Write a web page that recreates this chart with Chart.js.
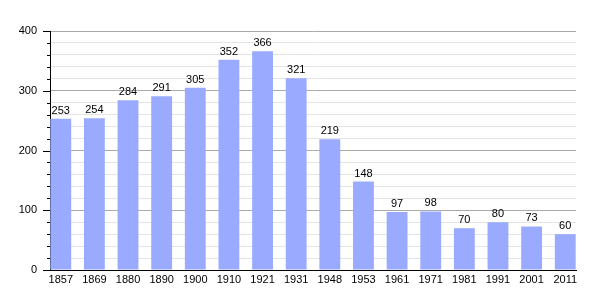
<!DOCTYPE html>
<html>
<head>
<meta charset="utf-8">
<script src="https://cdn.jsdelivr.net/npm/chart.js@4/dist/chart.umd.min.js"></script>
<style>
  html, body { margin: 0; padding: 0; background: #fff; }
  #wrap { width: 605px; height: 300px; }
</style>
</head>
<body>
<div id="wrap"><canvas id="c" width="605" height="300"></canvas></div>
<script>
const years = ["1857","1869","1880","1890","1900","1910","1921","1931","1948","1953","1961","1971","1981","1991","2001","2011"];
const population = [253,254,284,291,305,352,366,321,219,148,97,98,70,80,73,60];
const yTicks = [0,100,200,300,400];

const FONT = '"Liberation Sans", Arial, sans-serif';

const valueLabels = {
  id: 'valueLabels',
  afterDatasetsDraw(chart) {
    const ctx = chart.ctx;
    const meta = chart.getDatasetMeta(0);
    ctx.save();
    ctx.font = '11px ' + FONT;
    ctx.fillStyle = '#000';
    ctx.textAlign = 'center';
    ctx.textBaseline = 'alphabetic';
    meta.data.forEach((bar, i) => {
      ctx.fillText(String(population[i]), bar.x, bar.y - 5);
    });
    ctx.restore();
  }
};

const yTickMarks = {
  id: 'yTickMarks',
  afterDraw(chart) {
    const ctx = chart.ctx;
    const ys = chart.scales.y;
    const left = chart.chartArea.left;
    ctx.save();
    ctx.strokeStyle = '#000';
    ctx.lineWidth = 1;
    ys.ticks.forEach(t => {
      const py = Math.round(ys.getPixelForValue(t.value)) + 0.5;
      const len = (t.value % 100 === 0) ? 7 : 3;
      ctx.beginPath();
      ctx.moveTo(left - len, py);
      ctx.lineTo(left, py);
      ctx.stroke();
    });
    ctx.restore();
  }
};

new Chart(document.getElementById('c'), {
  type: 'bar',
  data: {
    datasets: [{
      data: population.map((v, i) => ({ x: i, y: v })),
      backgroundColor: '#9aabff',
      borderWidth: 0,
      barPercentage: 0.62,
      categoryPercentage: 1
    }]
  },
  options: {
    responsive: false,
    animation: false,
    devicePixelRatio: 1,
    layout: { padding: { top: 31, right: 29, bottom: 0, left: 0 } },
    plugins: { legend: { display: false }, tooltip: { enabled: false } },
    scales: {
      x: {
        type: 'linear',
        offset: false,
        min: -0.32,
        max: 15.32,
        afterBuildTicks: s => { s.ticks = years.map((_, i) => ({ value: i })); },
        afterFit: s => { s.height = 30; },
        grid: { display: false, drawTicks: false },
        border: { display: true, color: '#000', width: 1 },
        ticks: {
          autoSkip: false,
          maxRotation: 0,
          padding: 3,
          color: '#000',
          font: { family: FONT, size: 11 },
          callback: v => years[v] !== undefined ? years[v] : ''
        }
      },
      y: {
        min: 0,
        max: 400,
        afterFit: s => { s.width = 50; },
        ticks: {
          stepSize: 20,
          autoSkip: false,
          padding: 13,
          color: '#000',
          font: { family: FONT, size: 11 },
          callback: v => yTicks.includes(v) ? String(v) : ''
        },
        grid: {
          drawTicks: false,
          color: ctx => (ctx.tick && ctx.tick.value % 100 === 0) ? '#aaaaaa' : '#e4e4e4',
          lineWidth: 1
        },
        border: { display: true, color: '#000', width: 1 }
      }
    }
  },
  plugins: [valueLabels, yTickMarks]
});
</script>
</body>
</html>
